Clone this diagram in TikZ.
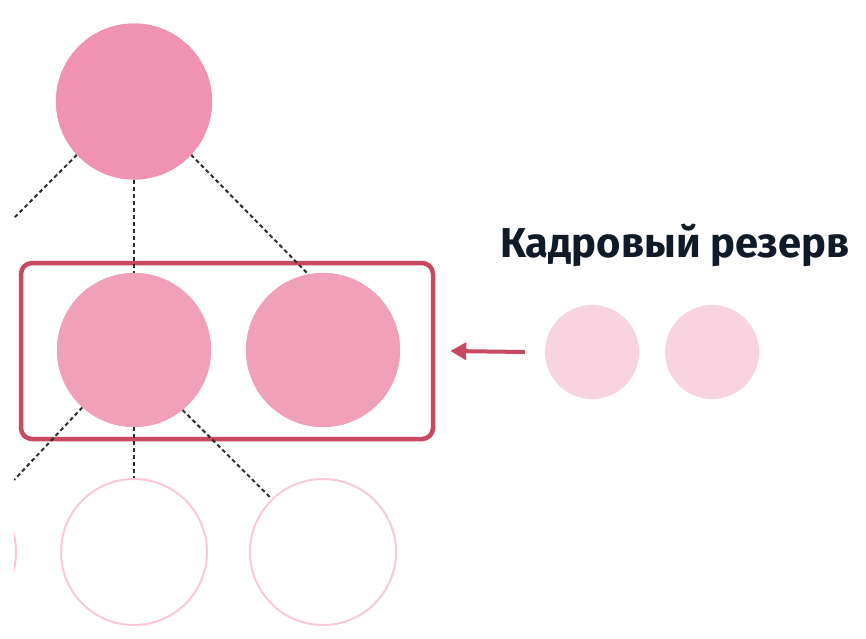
\documentclass[tikz,border=0pt]{standalone}
\usepackage{fontspec}
\setmainfont{Fira Sans}
\usetikzlibrary{arrows.meta}
\definecolor{topc}{HTML}{F093B2}
\definecolor{midc}{HTML}{F0A0B9}
\definecolor{resc}{HTML}{F7D4DF}
\definecolor{outc}{HTML}{F8C9D7}
\definecolor{redc}{HTML}{C84A62}
\definecolor{dashc}{HTML}{2E2E2E}
\definecolor{txtc}{HTML}{111B27}
\tikzset{
  ball/.style={circle, inner sep=0pt, draw=none},
  topball/.style={ball, fill=topc, minimum size=156pt},
  midball/.style={ball, fill=midc, minimum size=154pt},
  resball/.style={ball, fill=resc, minimum size=94pt},
  emptyball/.style={circle, inner sep=0pt, draw=outc, line width=2pt, fill=white, minimum size=146pt},
  link/.style={draw=dashc, line width=2pt, dash pattern=on 4pt off 3pt},
  frame/.style={draw=redc, line width=4.5pt, rounded corners=11pt, minimum width=412pt, minimum height=176pt, inner sep=0pt},
  feed/.style={draw=redc, line width=4pt, -{Triangle[length=16pt,width=17pt]}},
  title/.style={text=txtc, font=\bfseries, anchor=base west, inner sep=0pt}
}
\begin{document}
\begin{tikzpicture}[x=1pt,y=-1pt]
\useasboundingbox (0,0) rectangle (866,638);
\fill[white] (0,0) rectangle (866,638);
% nodes
\node[topball] (top) at (134,101.5) {};
\node[midball] (m1) at (134,350) {};
\node[midball] (m2) at (323,350) {};
\node[emptyball] (b1) at (134,552) {};
\node[emptyball] (b2) at (323,552) {};
\node[resball] (r1) at (592,352) {};
\node[resball] (r2) at (712,352) {};
\node[frame] (box) at (227,351) {};
\node[title] (lbl) at (500,257) {\resizebox{349pt}{!}{\fontsize{40pt}{44pt}\selectfont Кадровый резерв}};
\begin{scope}
\clip (14,0) rectangle (866,638);
\node[emptyball] (b0) at (-57,552) {};
\coordinate (offA) at (14,218);
\coordinate (offB) at (14,480);
\draw[link] (top.223.5) -- (offA);
\draw[link] (top) -- (m1);
\draw[link] (top.-43) -- (m2.101);
\draw[link] (m1.228) -- (offB);
\draw[link] (m1) -- (b1);
\draw[link] (m1.-51) -- (b2.134);
\end{scope}
% redraw circles over links
\node[topball] at (top) {};
\node[midball] at (m1) {};
\node[midball] at (m2) {};
\draw[feed] ([xshift=-20pt]r1.west) -- ([xshift=15pt]box.east);
\end{tikzpicture}
\end{document}
